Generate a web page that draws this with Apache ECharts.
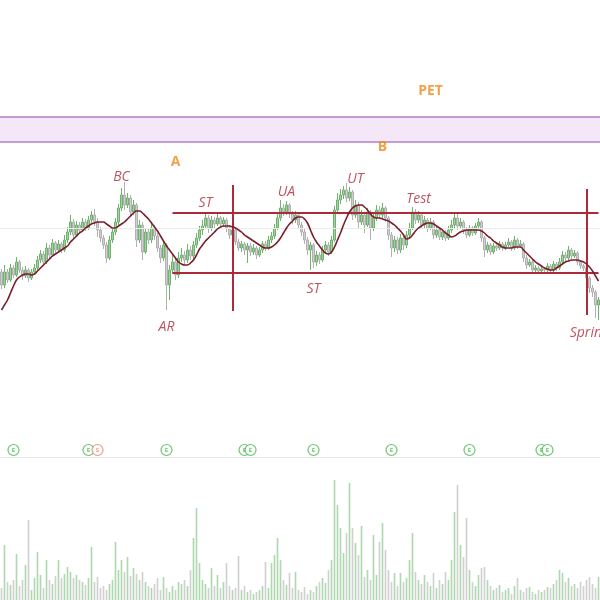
<!DOCTYPE html>
<html><head><meta charset="utf-8">
<script src="https://cdn.jsdelivr.net/npm/echarts@6/dist/echarts.min.js"></script>
<style>html,body{margin:0;padding:0;background:#fff}#c{width:600px;height:600px}</style>
</head><body><div id="c"></div>
<script>
// ---- DATA ----
// candles: [open, close, low, high]
const candles = [
[168,155,151,171],[155,168,152,175],[168,160,157,171],[160,172,158,176],[172,165,162,175],
[165,178,163,183],[178,170,167,180],[170,164,160,173],[164,170,162,174],[170,162,158,172],
[162,168,160,171],[168,172,165,176],[172,180,170,184],[180,186,177,190],[186,178,175,189],
[178,192,176,197],[192,185,181,195],[185,197,183,201],[197,190,186,199],[190,196,188,200],
[196,190,187,198],[190,200,188,205],[200,208,197,213],[208,218,205,225],[218,205,201,221],
[205,215,203,219],[215,210,206,218],[210,218,208,222],[218,212,209,221],[212,220,210,224],
[220,225,217,229],[225,218,214,231],[218,210,203,222],[210,202,198,213],[202,195,191,205],
[195,182,177,198],[182,200,180,204],[200,208,197,212],[208,218,205,222],[218,232,215,236],
[232,245,229,252],[245,235,230,258],[235,242,232,247],[242,228,224,245],[228,235,225,240],
[235,200,193,237],[200,215,197,220],[215,188,180,218],[188,208,186,212],[208,200,196,211],
[200,212,197,218],[212,204,200,215],[204,192,188,207],[192,182,177,195],[182,195,179,199],
[195,155,130,197],[155,170,140,175],[170,178,166,185],[178,165,160,182],[165,182,162,188],
[182,185,178,192],[185,180,175,189],[180,190,177,196],[190,184,180,194],[184,195,181,199],
[195,202,192,207],[202,210,199,214],[210,214,205,220],[214,222,211,227],[222,212,207,225],
[212,220,209,224],[220,216,212,223],[216,222,214,226],[222,216,213,224],[216,220,213,223],
[220,212,208,222],[212,205,201,215],[205,210,200,214],[210,198,195,212],[198,192,189,201],
[192,196,188,199],[196,190,185,198],[190,194,177,197],[194,188,184,197],[188,192,185,196],
[192,185,181,194],[185,190,183,193],[190,196,187,199],[196,192,189,199],[192,200,190,204],
[200,204,197,208],[204,212,201,216],[212,222,210,227],[222,232,219,240],[232,228,224,236],
[228,235,225,239],[235,226,222,237],[226,220,216,229],[220,225,217,229],[225,215,211,227],
[215,208,204,218],[208,200,196,211],[200,190,185,203],[190,195,170,198],[195,178,172,197],
[178,185,174,189],[185,180,176,188],[180,190,178,194],[190,195,187,199],[195,188,184,198],
[188,200,186,204],[200,230,198,234],[230,240,226,247],[240,245,236,251],[245,250,241,254],
[250,242,238,257],[242,248,239,253],[248,225,220,250],[225,235,222,240],[235,218,212,238],
[218,225,215,230],[225,215,207,228],[215,228,213,232],[228,212,200,230],[212,222,209,226],
[222,230,219,235],[230,225,221,234],[225,232,222,237],[232,222,218,234],[222,205,200,224],
[205,192,183,208],[192,200,188,204],[200,190,186,203],[190,202,187,206],[202,195,190,205],
[195,205,192,209],[205,212,202,217],[212,228,210,233],[228,220,216,231],[220,225,217,229],
[225,215,211,227],[215,220,212,224],[220,212,208,222],[212,218,210,222],[218,205,201,220],
[205,210,202,213],[210,203,200,212],[203,208,200,211],[208,202,199,210],[202,210,200,214],
[210,215,207,220],[215,222,212,226],[222,214,210,228],[214,218,211,222],[218,210,206,220],
[210,205,202,213],[205,212,203,215],[212,207,204,214],[207,214,205,217],[214,218,211,222],
[218,202,198,220],[202,190,183,204],[190,195,187,198],[195,188,185,197],[188,194,186,197],
[194,192,189,196],[192,196,190,199],[196,192,189,198],[192,195,190,198],[195,198,193,202],
[198,192,189,200],[192,200,190,204],[200,194,191,202],[194,196,192,200],[196,182,178,198],
[182,175,171,185],[175,178,173,181],[178,170,167,180],[170,172,168,175],[172,169,167,174],
[169,171,167,174],[171,170,167,173],[170,174,168,177],[174,170,168,176],[170,176,168,179],
[176,172,169,178],[172,178,170,182],[178,185,176,189],[185,182,179,188],[182,190,180,194],
[190,184,181,192],[184,187,182,190],[187,178,175,189],[178,174,171,180],[174,172,169,176],
[172,162,158,174],[162,152,147,164],[152,148,143,155],[148,135,122,150],[135,140,120,143]
];
// moving average line as drawn
const maValues = [
130,135,140,147,154,160,163,165,166,166,165,166,169,172,175,178,181,184,186,188,
190,192,194,198,201,204,207,209,212,214,216,217,218,218,218,216,214,212,212,214,
216,218,221,224,227,229,229,227,224,221,217,213,209,204,199,194,190,186,182,178,
176,175,175,177,180,185,191,195,199,202,205,208,211,213,214,214,214,213,212,210,
208,205,203,201,199,197,195,193,192,192,193,195,198,202,207,212,216,219,222,223,
223,221,217,210,203,198,194,190,187,186,188,193,200,207,215,222,228,232,234,235,
235,233,230,226,223,222,222,221,220,219,217,215,212,209,205,201,202,205,209,212,
214,216,217,217,216,214,212,210,207,205,203,204,206,208,209,210,210,210,210,210,
209,207,204,202,199,197,195,193,192,192,192,193,193,193,190,187,184,181,178,176,
174,172,171,170,170,172,174,176,178,179,180,180,180,179,178,176,173,169,164,159
];
const volumes = [
12,55,18,15,20,46,14,20,35,80,10,22,48,25,12,40,20,16,24,40,
22,26,33,28,22,25,20,18,15,22,53,18,23,12,14,10,16,20,58,30,
40,28,43,24,32,26,20,28,18,14,12,16,22,10,23,12,8,14,10,18,
16,20,14,30,62,92,37,20,16,12,32,14,25,12,18,37,14,10,12,44,
10,14,8,10,6,8,10,14,38,12,37,45,62,40,20,15,27,12,28,10,
8,13,6,10,8,14,18,22,17,30,40,120,95,72,47,67,117,72,57,45,
74,23,30,20,65,25,58,77,50,30,18,27,14,27,18,22,40,67,28,20,
16,25,18,14,27,12,20,16,28,20,40,88,115,55,43,82,30,18,14,25,
32,33,20,14,10,12,15,8,10,12,6,14,22,10,8,12,13,8,6,10,
8,10,13,12,16,20,30,27,18,22,14,16,12,18,14,20,23,16,12,23
];
// Wyckoff annotations: [bar index, price, text]
const phaseLabels = [[143,349,'PET'],[58,278,'A'],[127,293,'B'],[199,287,'C']];
const eventLabels = [[40,263,'BC'],[68,237,'ST'],[55,113,'AR'],[95,248,'UA'],[104,151,'ST'],[118,261,'UT'],[139,241,'Test'],[196,107,'Spring']];
// trading range lines
const rangeTop = 227, rangeBottom = 167, rangeStart = 57, rangeEnd = 199;
const verticals = [[77,255,129],[195,251,125]];
const petBand = [298,323];
const refLevel = 212;
// earnings / split markers: [bar index, letter]
const markers = [[4,'E'],[29,'E'],[32,'S'],[55,'E'],[81,'E'],[83,'E'],[104,'E'],[130,'E'],[156,'E'],[180,'E'],[182,'E']];
const markerLevel = -10;

// categories (trading days)
const categories = [];
(function(){let d=new Date(Date.UTC(2021,0,4));while(categories.length<candles.length){const w=d.getUTCDay();if(w!==0&&w!==6)categories.push(d.toISOString().slice(0,10));d.setUTCDate(d.getUTCDate()+1);}})();

const RED='#ad2a3a', ORANGE='#f08a1c', PURPLE='#b47fc7';
const chart = echarts.init(document.getElementById('c'));
const rl = {color:RED,width:2,type:'solid'};
chart.setOption({
  animation:false,
  backgroundColor:'#fff',
  textStyle:{fontFamily:'Open Sans'},
  grid:[{left:0,right:0,top:0,height:457},{left:0,right:0,top:460,height:140}],
  xAxis:[
    {type:'category',data:categories,gridIndex:0,boundaryGap:true,
     axisLine:{show:true,onZero:false,lineStyle:{color:'#e6e6e6'}},axisTick:{show:false},axisLabel:{show:false},splitLine:{show:false}},
    {type:'category',data:categories,gridIndex:1,boundaryGap:true,show:false}
  ],
  yAxis:[
    {type:'value',gridIndex:0,min:-17,max:440,show:false,splitLine:{show:false}},
    {type:'value',gridIndex:1,min:0,max:140,show:false,splitLine:{show:false}}
  ],
  series:[
    {type:'candlestick',name:'price',xAxisIndex:0,yAxisIndex:0,data:candles,barWidth:2,
     itemStyle:{color:'#9ed39e',color0:'#cfcfcf',borderColor:'#6fb36f',borderColor0:'#b0b0b0',borderWidth:1},
     markArea:{silent:true,itemStyle:{color:'#f4e7f7'},data:[[{yAxis:petBand[0]},{yAxis:petBand[1]}]]},
     markLine:{silent:true,symbol:['none','none'],label:{show:false},
       data:[
         {yAxis:refLevel,lineStyle:{color:'#ebebeb',width:1,type:'solid'}},
         {yAxis:petBand[0],lineStyle:{color:PURPLE,width:1.5,type:'solid'}},
         {yAxis:petBand[1],lineStyle:{color:PURPLE,width:1.5,type:'solid'}},
         [{coord:[categories[rangeStart],rangeTop],lineStyle:rl},{coord:[categories[rangeEnd],rangeTop]}],
         [{coord:[categories[rangeStart],rangeBottom],lineStyle:rl},{coord:[categories[rangeEnd],rangeBottom]}],
         ...verticals.map(v=>[{coord:[categories[v[0]],v[1]],lineStyle:rl},{coord:[categories[v[0]],v[2]]}])
       ]}
    },
    {type:'line',name:'MA',xAxisIndex:0,yAxisIndex:0,data:maValues,showSymbol:false,smooth:0.4,
     lineStyle:{color:'#7a1e2c',width:1.6},z:5},
    {type:'scatter',xAxisIndex:0,yAxisIndex:0,symbolSize:1,itemStyle:{color:'rgba(0,0,0,0)'},z:6,
     data:phaseLabels.map(d=>({value:[categories[d[0]],d[1]],
       label:{show:true,position:'inside',formatter:d[2],color:ORANGE,fontSize:14,fontWeight:'bold',offset:d[2]==='C'?[8,0]:[0,0]}}))},
    {type:'scatter',xAxisIndex:0,yAxisIndex:0,symbolSize:1,itemStyle:{color:'rgba(0,0,0,0)'},z:6,
     data:eventLabels.map(d=>({value:[categories[d[0]],d[1]],
       label:{show:true,position:'inside',formatter:d[2],color:RED,fontSize:14,fontStyle:'italic'}}))},
    {type:'scatter',xAxisIndex:0,yAxisIndex:0,symbol:'circle',symbolSize:11,z:6,
     data:markers.map(m=>{const c=m[1]==='S'?'#f0806a':'#45b84c';return {value:[categories[m[0]],markerLevel],
       itemStyle:{color:'#fff',borderColor:c,borderWidth:1.2},
       label:{show:true,position:'inside',formatter:m[1],color:c,fontSize:6,fontWeight:'bold'}};})},
    {type:'bar',name:'volume',xAxisIndex:1,yAxisIndex:1,barWidth:'55%',
     data:volumes.map((v,i)=>({value:v,itemStyle:{color:candles[i][1]>=candles[i][0]?'rgba(120,190,120,0.6)':'rgba(150,150,150,0.45)'}}))}
  ]
});
</script></body></html>
